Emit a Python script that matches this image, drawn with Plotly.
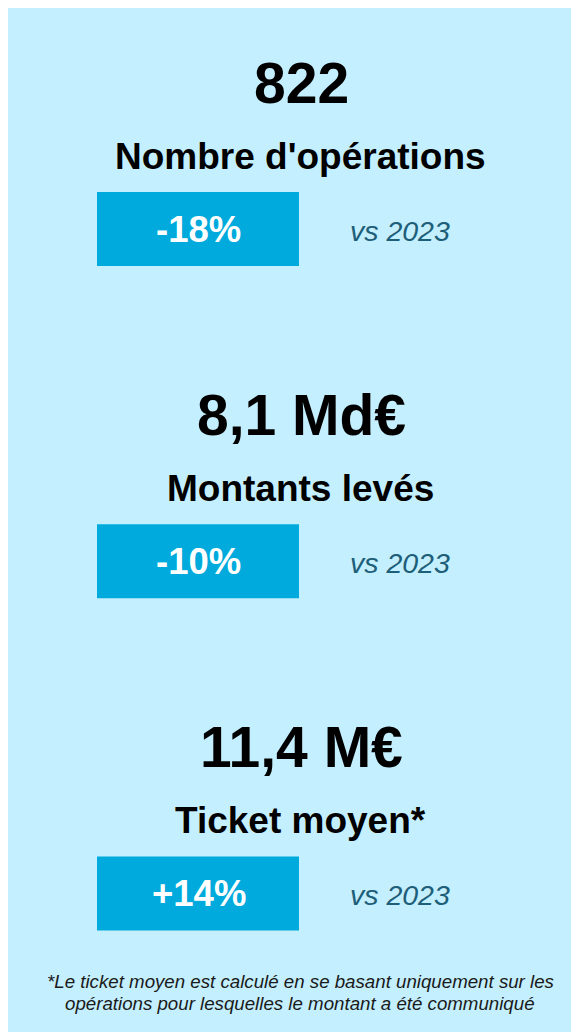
import plotly.graph_objects as go

# ---- data ----
values = ["822", "8,1 Md€", "11,4 M€"]
labels = ["Nombre d'opérations", "Montants levés", "Ticket moyen*"]
changes = ["-18%", "-10%", "+14%"]
comparison = "vs 2023"
footnote_lines = [
    "*Le ticket moyen est calculé en se basant uniquement sur les",
    "opérations pour lesquelles le montant a été communiqué",
]

# ---- styling ----
W, H = 571, 1026
PANEL = "#C4EFFE"
BOX = "#00AADC"
VS_COLOR = "#1D5E78"
FONT = "Liberation Sans, Arial, sans-serif"
STEP = 332.2
CX = 292

fig = go.Figure()
fig.add_trace(go.Scatter(x=[0, W], y=[0, H], mode="markers",
                         marker=dict(opacity=0), hoverinfo="skip", showlegend=False))

shapes = [dict(type="rect", xref="x", yref="y", x0=-5, x1=W + 20, y0=-5, y1=1024,
               fillcolor=PANEL, line=dict(width=0), layer="below")]
annotations = []

for i, (v, lab, ch) in enumerate(zip(values, labels, changes)):
    off = i * STEP
    box_top = 184 + off
    box_bot = 258 + off
    box_mid = (box_top + box_bot) / 2
    shapes.append(dict(type="rect", xref="x", yref="y", x0=89, x1=291,
                       y0=box_top, y1=box_bot, fillcolor=BOX, line=dict(width=0),
                       layer="below"))
    annotations.append(dict(x=CX + 1, y=74.5 + off, xref="x", yref="y", text=f"<b>{v}</b>",
                            showarrow=False, xanchor="center", yanchor="middle",
                            font=dict(family=FONT, size=57, color="#000000")))
    annotations.append(dict(x=CX, y=148.5 + off, xref="x", yref="y", text=f"<b>{lab}</b>",
                            showarrow=False, xanchor="center", yanchor="middle",
                            font=dict(family=FONT, size=37, color="#000000")))
    annotations.append(dict(x=190.5, y=box_mid, xref="x", yref="y", text=f"<b>{ch}</b>",
                            showarrow=False, xanchor="center", yanchor="middle",
                            font=dict(family=FONT, size=36.5, color="#FFFFFF")))
    annotations.append(dict(x=392, y=box_mid + 1.5, xref="x", yref="y", text=f"<i>{comparison}</i>",
                            showarrow=False, xanchor="center", yanchor="middle",
                            font=dict(family=FONT, size=28.5, color=VS_COLOR)))

for j, line in enumerate(footnote_lines):
    annotations.append(dict(x=CX, y=973.7 + j * 22, xref="x", yref="y", text=f"<i>{line}</i>",
                            showarrow=False, xanchor="center", yanchor="middle",
                            font=dict(family=FONT, size=18.7, color="#1A1A1A")))

fig.update_layout(
    width=W, height=H,
    margin=dict(l=0, r=0, t=0, b=0),
    paper_bgcolor="#FFFFFF", plot_bgcolor="#FFFFFF",
    xaxis=dict(range=[0, W], visible=False, fixedrange=True),
    yaxis=dict(range=[H, 0], visible=False, fixedrange=True),
    shapes=shapes, annotations=annotations,
    showlegend=False,
)

fig.write_html("out.html", config={"displayModeBar": False})
